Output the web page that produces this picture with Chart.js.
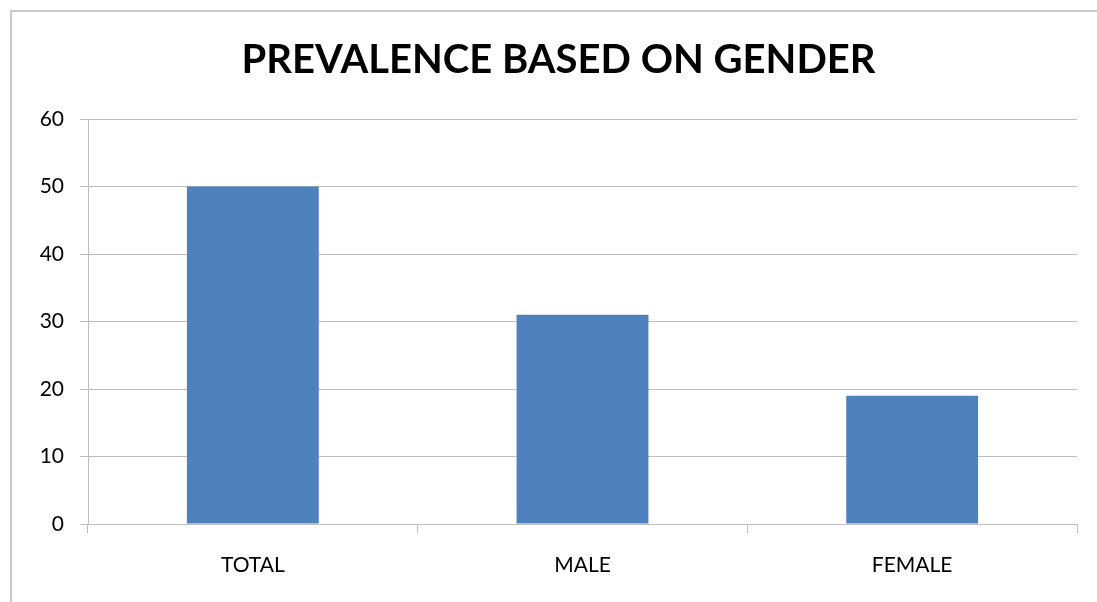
<!DOCTYPE html>
<html>
<head>
<meta charset="utf-8">
<title>Prevalence based on gender</title>
<script src="https://cdn.jsdelivr.net/npm/chart.js@4/dist/chart.umd.min.js"></script>
<style>
  html, body { margin: 0; padding: 0; background: #ffffff; overflow: hidden; }
  canvas { display: block; }
</style>
</head>
<body>
<canvas id="grafico" width="1097" height="602"></canvas>
<script>
// Dados do gráfico
const categorias = ["TOTAL", "MALE", "FEMALE"];
const valores = [50, 31, 19];
const eixoY = { min: 0, max: 60, passo: 10 };
const titulo = "PREVALENCE BASED ON GENDER";

const corBarra = "#4F81BD";
const corGrade = "#bfbfbf";
const fonte = "Lato, 'Open Sans', sans-serif";

// Moldura cinza em volta do gráfico
const moldura = {
  id: "moldura",
  beforeDraw(chart) {
    const c = chart.ctx;
    c.save();
    c.fillStyle = "#ffffff";
    c.fillRect(0, 0, chart.width, chart.height);
    c.strokeStyle = "#c8c8c8";
    c.lineWidth = 2;
    c.strokeRect(11, 11, chart.width + 40, chart.height + 40);
    c.restore();
  },
};

const config = {
  type: "bar",
  data: {
    labels: categorias,
    datasets: [
      {
        label: titulo,
        data: valores,
        backgroundColor: corBarra,
        borderWidth: 0,
        categoryPercentage: 1,
        barPercentage: 0.4,
      },
    ],
  },
  options: {
    responsive: false,
    animation: false,
    layout: { padding: { top: 0, right: 20, bottom: 0, left: 40 } },
    plugins: {
      legend: { display: false },
      tooltip: { enabled: false },
      title: {
        display: true,
        text: titulo,
        color: "#000000",
        font: { family: fonte, size: 40, weight: "bold" },
        padding: { top: 36, bottom: 35 },
      },
    },
    scales: {
      x: {
        grid: {
          offset: true,
          drawOnChartArea: false,
          drawTicks: true,
          tickLength: 9,
          color: corGrade,
        },
        border: { color: corGrade, width: 1 },
        ticks: {
          color: "#000000",
          font: { family: fonte, size: 21 },
          padding: 20,
        },
        afterFit(scale) {
          scale.height = 78;
        },
      },
      y: {
        min: eixoY.min,
        max: eixoY.max,
        grid: {
          color: corGrade,
          tickLength: 8,
        },
        border: { color: corGrade, width: 1 },
        ticks: {
          stepSize: eixoY.passo,
          color: "#000000",
          font: { family: fonte, size: 21 },
          padding: 16,
        },
        afterFit(scale) {
          scale.width = 48;
        },
      },
    },
  },
  plugins: [moldura],
};

const ctx = document.getElementById("grafico").getContext("2d");
const grafico = new Chart(ctx, config);
</script>
</body>
</html>
